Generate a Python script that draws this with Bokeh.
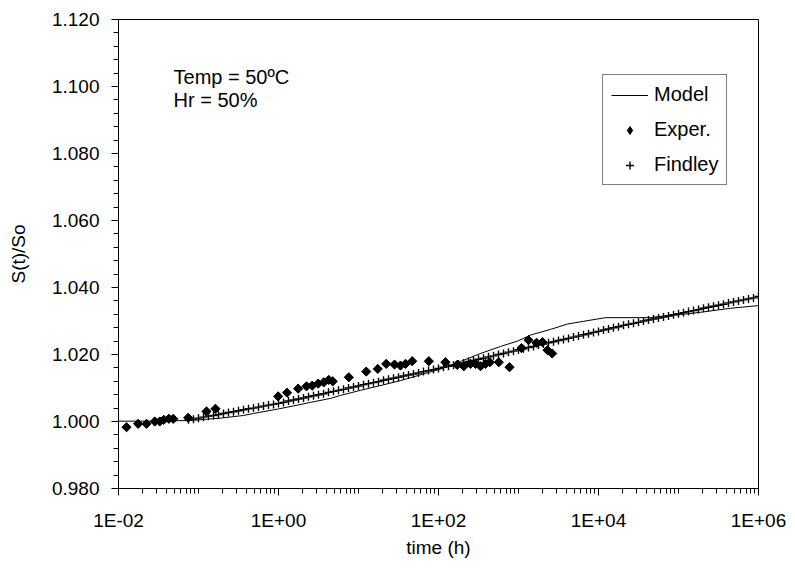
import math
from bokeh.plotting import figure
from bokeh.models import Range1d, FixedTicker, NumeralTickFormatter, Legend, LegendItem, Label
from bokeh.embed import file_html
from bokeh.resources import INLINE

# ---- data ----
exper_t = [0.0126, 0.0176, 0.0224, 0.0284, 0.0328, 0.0368, 0.0426, 0.0483, 0.0743, 0.126, 0.163,
           0.99, 1.28, 1.76, 2.24, 2.64, 3.13, 3.68, 4.25, 4.77,
           7.57, 12.5, 17.4, 22.2, 28.2, 33.5, 38.7, 46.9, 75.7,
           122, 171, 207, 251, 290, 335, 387, 438, 567, 772,
           1090, 1334, 1679, 1995, 2304, 2637]
exper_s = [0.9983, 0.9993, 0.9993, 1.0000, 1.0000, 1.0005, 1.0008, 1.0008, 1.0011, 1.0030, 1.0038,
           1.0075, 1.0086, 1.0098, 1.0105, 1.0107, 1.0113, 1.0117, 1.0124, 1.0120,
           1.0132, 1.0149, 1.0157, 1.0172, 1.0170, 1.0167, 1.0172, 1.0180, 1.0180,
           1.0177, 1.0169, 1.0165, 1.0172, 1.0172, 1.0165, 1.0172, 1.0177, 1.0177, 1.0162,
           1.0219, 1.0243, 1.0235, 1.0237, 1.0213, 1.0203]

model_t = [0.01, 0.0251, 0.0794, 0.188, 0.365, 0.487, 0.972, 1.30, 2.51, 4.47, 5.96, 10.6, 33.5,
           100, 188, 335, 596, 972, 1413, 2512, 4100, 6494, 12230, 44670, 54640, 105900,
           188400, 446700, 1e6]
model_s = [1.0001, 1.0001, 1.0003, 1.0010, 1.0018, 1.0024, 1.0037, 1.0043, 1.0057, 1.0069, 1.0078,
           1.0093, 1.0122, 1.0155, 1.0179, 1.0203, 1.0224, 1.0240, 1.0258, 1.0275, 1.0291, 1.0299,
           1.0310, 1.0310, 1.0313, 1.0319, 1.0326, 1.0338, 1.0346]

findley_t = [0.07499, 0.0866,
             0.1, 0.1155, 0.1334, 0.154, 0.1778, 0.2054, 0.2371, 0.2738, 0.3162, 0.3652, 0.4217, 0.487, 0.5623, 0.6494, 0.7499, 0.866,
             1, 1.155, 1.334, 1.54, 1.778, 2.054, 2.371, 2.738, 3.162, 3.652, 4.217, 4.87, 5.623, 6.494, 7.499, 8.66,
             10, 11.55, 13.34, 15.4, 17.78, 20.54, 23.71, 27.38, 31.62, 36.52, 42.17, 48.7, 56.23, 64.94, 74.99, 86.6,
             100, 115.5, 133.4, 154, 177.8, 205.4, 237.1, 273.8, 316.2, 365.2, 421.7, 487, 562.3, 649.4, 749.9, 866,
             1000, 1155, 1334, 1540, 1778, 2054, 2371, 2738, 3162, 3652, 4217, 4870, 5623, 6494, 7499, 8660,
             10000, 11550, 13340, 15400, 17780, 20540, 23710, 27380, 31620, 36520, 42170, 48700, 56230, 64940, 74990, 86600,
             100000, 115500, 133400, 154000, 177800, 205400, 237100, 273800, 316200, 365200, 421700, 487000, 562300, 649400, 749900, 866000,
             1000000]
findley_s = [1.0005, 1.0007,
             1.0010, 1.0013, 1.0016, 1.0018, 1.0021, 1.0024, 1.0027, 1.0029, 1.0032, 1.0035, 1.0038, 1.0040, 1.0043, 1.0046, 1.0049, 1.0051,
             1.0054, 1.0057, 1.0061, 1.0064, 1.0067, 1.0070, 1.0074, 1.0077, 1.0080, 1.0083, 1.0087, 1.0090, 1.0093, 1.0096, 1.0100, 1.0103,
             1.0106, 1.0110, 1.0113, 1.0116, 1.0119, 1.0123, 1.0126, 1.0129, 1.0132, 1.0136, 1.0139, 1.0142, 1.0145, 1.0149, 1.0152, 1.0155,
             1.0158, 1.0162, 1.0165, 1.0168, 1.0172, 1.0175, 1.0179, 1.0182, 1.0186, 1.0189, 1.0193, 1.0196, 1.0200, 1.0203, 1.0207, 1.0210,
             1.0214, 1.0217, 1.0221, 1.0224, 1.0228, 1.0231, 1.0235, 1.0238, 1.0242, 1.0245, 1.0248, 1.0252, 1.0255, 1.0259, 1.0262, 1.0266,
             1.0269, 1.0273, 1.0276, 1.0280, 1.0283, 1.0287, 1.0290, 1.0293, 1.0296, 1.0300, 1.0303, 1.0306, 1.0309, 1.0312, 1.0315, 1.0319,
             1.0322, 1.0325, 1.0328, 1.0331, 1.0334, 1.0338, 1.0341, 1.0344, 1.0347, 1.0350, 1.0354, 1.0357, 1.0360, 1.0363, 1.0366, 1.0369,
             1.0373]

x_major = [1e-2, 1e0, 1e2, 1e4, 1e6]
x_labels = ["1E-02", "1E+00", "1E+02", "1E+04", "1E+06"]
y_major = [0.98, 1.00, 1.02, 1.04, 1.06, 1.08, 1.10, 1.12]

FONT = "Liberation Sans"

p = figure(width=795, height=576, x_axis_type="log",
           x_range=Range1d(1e-2, 1e6), y_range=Range1d(0.98, 1.12),
           output_backend="svg", toolbar_location=None,
           min_border_left=118, min_border_right=37, min_border_top=19, min_border_bottom=88)
p.grid.visible = False
p.outline_line_color = "black"
p.outline_line_width = 1
p.background_fill_color = "white"
p.border_fill_color = "white"

# x axis ticks
x_minor = []
for d in range(-2, 6):
    for m in range(1, 10):
        v = m * 10.0 ** d
        if not any(abs(v - t) / t < 1e-9 for t in x_major):
            x_minor.append(v)
p.xaxis.ticker = FixedTicker(ticks=x_major, minor_ticks=x_minor)
p.xaxis.major_label_overrides = {t: l for t, l in zip(x_major, x_labels)}
y_minor = [round(0.98 + 0.004 * i, 3) for i in range(36)]
p.yaxis.ticker = FixedTicker(ticks=y_major, minor_ticks=y_minor)
p.yaxis.formatter = NumeralTickFormatter(format="0.000")

for ax in (p.xaxis[0], p.yaxis[0]):
    ax.axis_line_color = "black"
    ax.major_tick_line_color = "black"
    ax.minor_tick_line_color = "black"
    ax.major_tick_in = 0
    ax.major_tick_out = 7
    ax.minor_tick_in = 0
    ax.minor_tick_out = 5
    ax.major_label_text_font = FONT
    ax.major_label_text_font_size = "19px"
    ax.major_label_text_color = "black"
    ax.axis_label_text_font = FONT
    ax.axis_label_text_font_size = "19px"
    ax.axis_label_text_font_style = "normal"
    ax.axis_label_text_color = "black"

p.xaxis.axis_label = "time (h)"
p.yaxis.axis_label = "S(t)/So"
p.xaxis.major_label_standoff = 14
p.xaxis.axis_label_standoff = 3
p.yaxis.major_label_standoff = 12
p.yaxis.axis_label_standoff = 20

r_model = p.line(model_t, model_s, line_color="black", line_width=1)
# diamond glyph used for the legend key, hidden under the rotated squares
r_exp_key = p.scatter(exper_t, exper_s, marker="diamond", size=8,
                      fill_color="black", line_color="black")
r_exp = p.scatter(exper_t, exper_s, marker="square", angle=math.pi / 4, size=6.5,
                  fill_color="black", line_color="black")
r_find = p.scatter(findley_t, findley_s, marker="cross", size=8,
                   line_color="black", line_width=1.4)

legend = Legend(items=[LegendItem(label="Model", renderers=[r_model]),
                       LegendItem(label="Exper.", renderers=[r_exp_key]),
                       LegendItem(label="Findley", renderers=[r_find])],
                location=(484, 303))
legend.border_line_color = "black"
legend.border_line_width = 1
legend.background_fill_color = "white"
legend.background_fill_alpha = 1
legend.label_text_font = FONT
legend.label_text_font_size = "20px"
legend.label_text_color = "black"
legend.glyph_width = 37
legend.glyph_height = 20
legend.label_height = 22
legend.label_standoff = 6
legend.spacing = 12
legend.padding = 8
legend.margin = 0
p.add_layout(legend)

p.add_layout(Label(x=0.0487, y=1.1029, text="Temp = 50ºC", text_font=FONT,
                   text_font_size="20px", text_color="black", text_baseline="alphabetic"))
p.add_layout(Label(x=0.0487, y=1.0960, text="Hr = 50%", text_font=FONT,
                   text_font_size="20px", text_color="black", text_baseline="alphabetic"))

open("out.html", "w").write(file_html(p, INLINE))
